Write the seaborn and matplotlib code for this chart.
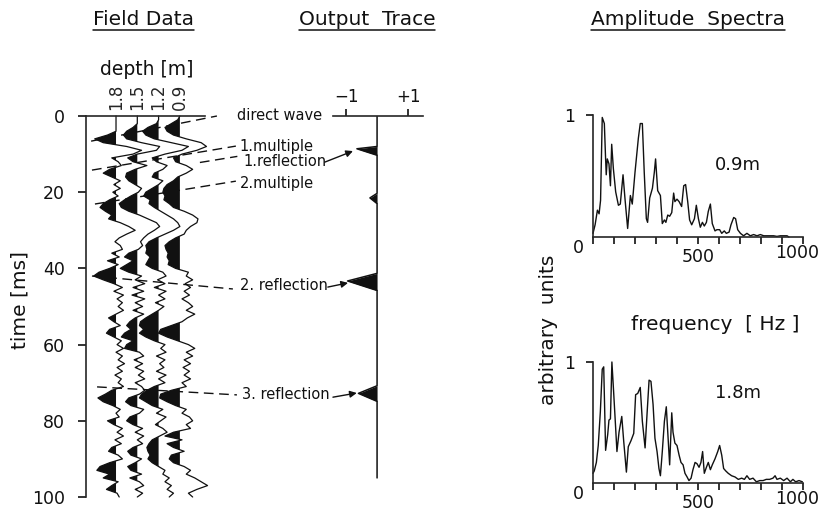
import numpy as np
import pandas as pd
import matplotlib
matplotlib.use("Agg")
import matplotlib.pyplot as plt
import seaborn as sns
from matplotlib.lines import Line2D
from matplotlib.patches import FancyArrowPatch

# ---------------- data ----------------
time_ms = np.arange(0, 101)          # field records, 1 ms steps
depth_labels = ["1.8", "1.5", "1.2", "0.9"]

# trace amplitudes in units of trace spacing (negative = filled black)
tr_18 = [0, 0, 0, 0, 0, -0.4, -1.0, -0.6, 0.5, 1.2,
         0.8, -0.2, 0.1, 0.25, -0.3, -0.6, -0.2, 0.2, -0.1, 0.2,
         -0.15, 0.1, -0.3, -0.6, -0.75, -0.5, -0.2, -0.35, 0.2, 0.6,
         0.9, 0.5, 0.15, -0.05, 0.2, 0.3, -0.2, 0.15, -0.4, 0.1,
         -0.3, -0.8, -1.05, -0.6, -0.1, 0.3, -0.1, 0.35, 0.05, 0.3,
         0.1, 0.35, 0.0, -0.35, -0.1, 0.2, -0.3, -0.45, -0.1, 0.25,
         0.05, 0.35, 0.0, 0.3, 0.1, 0.4, 0.05, 0.3, -0.05, 0.25,
         0.1, 0.35, -0.2, -0.5, -0.85, -0.6, -0.15, 0.2, 0.0, 0.15,
         -0.4, -0.1, 0.3, 0.05, 0.35, -0.05, 0.25, -0.2, -0.35, 0.1,
         0.3, -0.3, -0.75, -0.9, -0.3, -0.6, 0.1, -0.2, -0.45, 0.05,
         0.15]
tr_15 = [0, 0, 0, -0.2, -0.5, -0.65, -0.5, 0.2, 1.05, 0.9,
         0.0, -0.45, -0.2, 0.45, -0.1, -0.5, -0.55, -0.4, -0.1, 0.2,
         0.05, -0.3, -0.6, -0.85, -0.75, -0.4, 0.1, 0.5, 0.9, 1.05,
         0.8, 0.5, 0.3, 0.15, 0.25, 0.05, -0.4, -0.6, -0.2, -0.5,
         -0.8, -0.4, 0.2, -0.1, 0.35, -0.2, 0.3, -0.25, 0.35, -0.1,
         0.25, -0.2, 0.3, -0.1, -0.35, -0.5, -0.3, -0.6, -0.75, -0.2,
         -0.5, -0.6, 0.1, 0.3, -0.15, 0.25, -0.1, 0.3, 0.05, 0.35,
         -0.1, 0.2, 0.35, 0.1, -0.4, -0.55, -0.3, 0.3, 0.1, -0.35,
         -0.5, -0.2, 0.25, -0.1, 0.3, 0.0, 0.25, -0.2, -0.45, -0.3,
         0.2, -0.1, -0.45, -0.3, 0.2, -0.35, 0.1, 0.3, -0.1, 0.25,
         0.0]
tr_12 = [0, 0, -0.1, -0.5, -0.75, -0.6, -0.2, 0.6, 1.4, 1.1,
         0.3, -0.3, -0.1, 0.4, 0.2, -0.2, -0.3, 0.2, 0.0, -0.3,
         -0.6, -0.7, -0.4, -0.45, -0.2, 0.1, 0.4, 0.7, 0.9, 1.0,
         0.7, 0.3, -0.1, -0.45, -0.6, -0.55, -0.6, -0.4, -0.5, -0.6,
         -0.3, 0.2, 0.35, -0.05, 0.3, -0.2, 0.35, 0.0, 0.3, -0.15,
         0.25, 0.0, -0.3, -0.6, -0.85, -0.9, -0.7, -0.9, -0.6, -0.2,
         0.3, 0.1, 0.35, -0.1, 0.3, 0.05, 0.25, -0.1, 0.35, 0.0,
         0.3, -0.2, -0.55, -0.8, -0.9, -0.6, -0.3, 0.2, -0.1, 0.35,
         0.1, -0.15, 0.2, 0.4, 0.05, -0.3, -0.45, -0.55, -0.5, -0.4,
         -0.5, -0.3, 0.0, 0.3, 0.2, 0.5, 0.3, 0.6, 0.4, 0.7,
         0.5]
tr_09 = [0, -0.1, -0.4, -0.7, -0.6, -0.3, 0.3, 1.0, 1.25, 0.8,
         0.1, -0.3, -0.2, 0.3, 0.6, 0.3, -0.1, -0.3, -0.6, -0.75,
         -0.8, -0.7, -0.75, -0.5, -0.3, 0.2, 0.6, 0.85, 0.8, 0.5,
         0.3, 0.2, -0.2, -0.5, -0.7, -0.65, -0.55, -0.6, -0.5, -0.55,
         -0.2, 0.4, 0.3, 0.6, 0.25, 0.5, 0.2, 0.45, 0.1, 0.4,
         0.6, 0.3, 0.7, 0.35, 0.1, -0.4, -0.9, -1.0, -0.6, -0.1,
         0.4, 0.7, 0.3, 0.6, 0.2, 0.5, 0.15, 0.45, 0.2, 0.5,
         0.1, 0.3, -0.4, -0.9, -0.95, -0.6, -0.2, 0.3, 0.1, 0.45,
         0.6, 0.3, 0.5, -0.3, -0.7, 0.1, -0.6, -0.3, 0.2, -0.4,
         -0.5, -0.3, 0.2, 0.5, 0.3, 0.7, 1.0, 1.3, 0.8, 0.4,
         0.6]

# output trace (breakpoints)
out_t = [0, 8.0, 8.6, 10.3, 20.3, 21.5, 23.0, 41.3, 43.3, 45.8, 70.8, 72.8, 74.9, 95]
out_a = [0, 0, -0.65, 0, 0, -0.23, 0, 0, -0.95, 0, 0, -0.6, 0, 0]

# amplitude spectra
top_f = [0, 10, 21, 29, 36, 44, 54, 60, 63, 68, 76, 83, 89, 97, 108, 121, 130, 143, 152, 165,
         178, 187, 200, 216, 225, 235, 244, 254, 260, 270, 283, 292, 298, 308, 321, 330, 340, 347, 356, 365,
         375, 384, 390, 400, 410, 422, 432, 441, 451, 460, 470, 483, 492, 502, 511, 521, 530, 540, 549, 559,
         568, 581, 590, 603, 613, 625, 635, 648, 657, 670, 679, 689, 702, 717, 733, 749, 765, 781, 797, 813,
         829, 844, 860, 876, 892, 908, 924, 933]
top_a = [0.03, 0.10, 0.22, 0.19, 0.30, 0.98, 0.93, 0.64, 0.51, 0.64, 0.60, 0.42, 0.76, 0.56, 0.37, 0.26, 0.27, 0.51, 0.32, 0.07,
         0.34, 0.27, 0.53, 0.81, 0.93, 0.93, 0.53, 0.15, 0.12, 0.32, 0.40, 0.53, 0.64, 0.38, 0.34, 0.11, 0.14, 0.12, 0.18, 0.17,
         0.20, 0.36, 0.29, 0.31, 0.29, 0.25, 0.42, 0.43, 0.29, 0.14, 0.10, 0.15, 0.26, 0.15, 0.08, 0.12, 0.09, 0.12, 0.21, 0.27,
         0.11, 0.05, 0.06, 0.06, 0.03, 0.05, 0.03, 0.04, 0.10, 0.16, 0.15, 0.06, 0.03, 0.01, 0.03, 0.01, 0.02, 0.01, 0.02, 0.01,
         0.01, 0.01, 0.01, 0.005, 0.01, 0.01, 0.01, 0.0]
bot_f = [0, 6, 16, 25, 35, 44, 51, 60, 70, 76, 83, 90, 98, 108, 114, 124, 137, 146, 159, 168,
         181, 194, 203, 213, 225, 235, 248, 257, 267, 276, 286, 295, 305, 314, 321, 330, 340, 349, 356, 365,
         375, 381, 390, 400, 410, 419, 429, 438, 448, 457, 467, 476, 486, 495, 505, 514, 522, 530, 540, 549,
         559, 568, 581, 594, 603, 613, 622, 632, 644, 660, 676, 692, 708, 721, 733, 746, 762, 778, 794, 810,
         825, 841, 857, 867, 876, 892, 908, 924, 940, 952, 965, 981, 997]
bot_a = [0.08, 0.10, 0.17, 0.31, 0.59, 0.94, 0.96, 0.27, 0.40, 0.52, 0.53, 1.0, 0.76, 0.45, 0.26, 0.42, 0.55, 0.35, 0.09, 0.30,
         0.35, 0.41, 0.73, 0.74, 0.79, 0.51, 0.29, 0.56, 0.85, 0.84, 0.65, 0.37, 0.26, 0.12, 0.06, 0.26, 0.51, 0.63, 0.42, 0.15,
         0.58, 0.42, 0.33, 0.31, 0.23, 0.17, 0.15, 0.08, 0.05, 0.02, 0.04, 0.11, 0.17, 0.16, 0.13, 0.17, 0.26, 0.08, 0.13, 0.17,
         0.11, 0.15, 0.20, 0.26, 0.31, 0.23, 0.12, 0.10, 0.08, 0.06, 0.05, 0.03, 0.04, 0.03, 0.06, 0.03, 0.04, 0.01, 0.02, 0.02,
         0.03, 0.03, 0.04, 0.06, 0.03, 0.04, 0.02, 0.04, 0.01, 0.03, 0.01, 0.02, 0.01]

# ---------------- style ----------------
sns.set_theme(style="ticks")
plt.rcParams["font.family"] = ["DejaVu Sans"]
plt.rcParams["axes.linewidth"] = 1.2
plt.rcParams["xtick.major.width"] = 1.2
plt.rcParams["ytick.major.width"] = 1.2
ink = "#111111"

W, H = 822, 518
fig = plt.figure(figsize=(W / 100, H / 100), dpi=100)

def px_axes(x0, x1, ytop, ybot):
    ax = fig.add_axes([x0 / W, 1 - ybot / H, (x1 - x0) / W, (ybot - ytop) / H])
    ax.patch.set_visible(False)
    return ax

# ---------------- field data ----------------
ax_f = px_axes(86, 205, 116, 497)
traces = [tr_18, tr_15, tr_12, tr_09]
positions = np.arange(len(traces))
for pos, amp in zip(positions, traces):
    amp = np.asarray(amp, dtype=float)
    ax_f.fill_betweenx(time_ms, pos + amp, pos, where=amp < 0, interpolate=True,
                       color=ink, lw=0, clip_on=False)
    sns.lineplot(x=pos + amp, y=time_ms, orient="y", sort=False, estimator=None,
                 color=ink, lw=0.9, ax=ax_f, clip_on=False)

ax_f.set_xlim(-1.41, 4.18)
ax_f.set_ylim(100, 0)
ax_f.spines["right"].set_visible(False)
ax_f.spines["bottom"].set_visible(False)
ax_f.set_yticks(np.arange(0, 101, 20))
ax_f.tick_params(axis="y", direction="out", length=6, pad=9, labelsize=12.5, colors=ink)
ax_f.xaxis.tick_top()
ax_f.set_xticks(positions)
ax_f.set_xticklabels(depth_labels, rotation=90, fontsize=12)
ax_f.tick_params(axis="x", length=0, pad=4)
ax_f.set_xlabel("")
ax_f.set_ylabel("")
ax_f.text(1.46, -12.3, "depth [m]", ha="center", va="center", fontsize=13.5, color=ink)

# event markers (dashed) and labels
dash = (0, (7, 4))
event_lines = [([-1.17, 4.74], [6.6, 0.0]),
               ([-1.13, 5.63], [14.2, 7.9]),
               ([3.94, 5.70], [12.2, 10.6]),
               ([-0.99, 5.63], [23.1, 17.1]),
               ([-1.13, 5.49], [42.0, 45.4]),
               ([-0.89, 5.68], [71.1, 73.2])]
for xs, ts in event_lines:
    ax_f.plot(xs, ts, ls=dash, lw=1.0, color=ink, clip_on=False)

labels = [(5.68, 0.0, "direct wave"), (5.82, 7.9, "1.multiple"), (6.0, 11.9, "1.reflection"),
          (5.80, 17.6, "2.multiple"), (5.82, 44.4, "2. reflection"), (5.92, 73.0, "3. reflection")]
for x, t, s in labels:
    ax_f.text(x, t, s, ha="left", va="center", fontsize=10.5, color=ink)

arrows = [((9.81, 12.1), (11.13, 9.2)), ((9.95, 44.9), (10.90, 43.8)), ((10.19, 73.8), (11.31, 72.7))]
for start, end in arrows:
    arr = FancyArrowPatch(start, end, transform=ax_f.transData, arrowstyle="-|>",
                          mutation_scale=10, color=ink, lw=1.0, shrinkA=0, shrinkB=0)
    arr.set_clip_on(False)
    ax_f.add_patch(arr)

# ---------------- output trace ----------------
ax_o = px_axes(333, 423, 116, 497)
out_t_arr = np.asarray(out_t)
out_a_arr = np.asarray(out_a)
ax_o.fill_betweenx(out_t_arr, out_a_arr, 0, where=out_a_arr <= 0, color=ink, lw=0)
sns.lineplot(x=out_a_arr, y=out_t_arr, orient="y", sort=False, estimator=None,
             color=ink, lw=1.1, ax=ax_o)
ax_o.set_xlim(-1.42, 1.48)
ax_o.set_ylim(100, 0)
for side in ["left", "right", "bottom"]:
    ax_o.spines[side].set_visible(False)
ax_o.set_yticks([])
ax_o.xaxis.tick_top()
ax_o.set_xticks([-1, 1])
ax_o.set_xticklabels(["\u22121", "+1"], fontsize=12)
ax_o.tick_params(axis="x", direction="out", length=5, pad=2, colors=ink)
ax_o.set_xlabel("")
ax_o.set_ylabel("")

# ---------------- amplitude spectra ----------------
def spectrum(ax, f, a, tag, tag_y):
    df = pd.DataFrame({"freq": f, "amp": a})
    sns.lineplot(data=df, x="freq", y="amp", estimator=None, sort=False,
                 color=ink, lw=1.0, ax=ax, clip_on=False)
    ax.set_xlim(0, 1000)
    ax.set_ylim(0, 1)
    ax.spines["top"].set_visible(False)
    ax.spines["right"].set_visible(False)
    ax.set_xticks(np.arange(0, 1001, 100))
    ax.set_xticklabels(["500" if v == 500 else "" for v in range(0, 1001, 100)])
    ax.set_yticks([1])
    ax.set_yticklabels(["1"])
    ax.tick_params(axis="x", direction="out", length=5, pad=3, labelsize=12.5, colors=ink)
    ax.tick_params(axis="y", direction="out", length=5, pad=8, labelsize=12.5, colors=ink)
    ax.set_xlabel("")
    ax.set_ylabel("")
    ax.text(-70, -0.09, "0", ha="center", va="center", fontsize=12.5, color=ink, clip_on=False)
    ax.text(972, -0.055, "1000", ha="center", va="top", fontsize=12.5, color=ink, clip_on=False)
    ax.text(580, tag_y, tag, ha="left", va="center", fontsize=13, color=ink)

ax_s1 = px_axes(593, 803, 115, 237)
spectrum(ax_s1, top_f, top_a, "0.9m", 0.59)
ax_s2 = px_axes(593, 803, 362, 483)
spectrum(ax_s2, bot_f, bot_a, "1.8m", 0.74)

# ---------------- figure texts ----------------
fig.text(20 / W, 1 - 300 / H, "time [ms]", rotation=90, ha="center", va="center", fontsize=14.5, color=ink)
fig.text(548 / W, 1 - 330 / H, "arbitrary  units", rotation=90, ha="center", va="center", fontsize=14.5, color=ink)
fig.text(715 / W, 1 - 325 / H, "frequency  [ Hz ]", ha="center", va="center", fontsize=14.5, color=ink)

titles = [fig.text(143 / W, 1 - 25 / H, "Field Data", ha="center", va="baseline", fontsize=14.5, color=ink),
          fig.text(367 / W, 1 - 25 / H, "Output  Trace", ha="center", va="baseline", fontsize=14.5, color=ink),
          fig.text(688 / W, 1 - 25 / H, "Amplitude  Spectra", ha="center", va="baseline", fontsize=14.5, color=ink)]

fig.canvas.draw()
renderer = fig.canvas.get_renderer()
for t in titles:
    bb = t.get_window_extent(renderer)
    x0, x1 = bb.x0 / W, bb.x1 / W
    fig.add_artist(Line2D([x0, x1], [1 - 30 / H, 1 - 30 / H], color=ink, lw=1.1))

fig.savefig("out.png", dpi=100)
